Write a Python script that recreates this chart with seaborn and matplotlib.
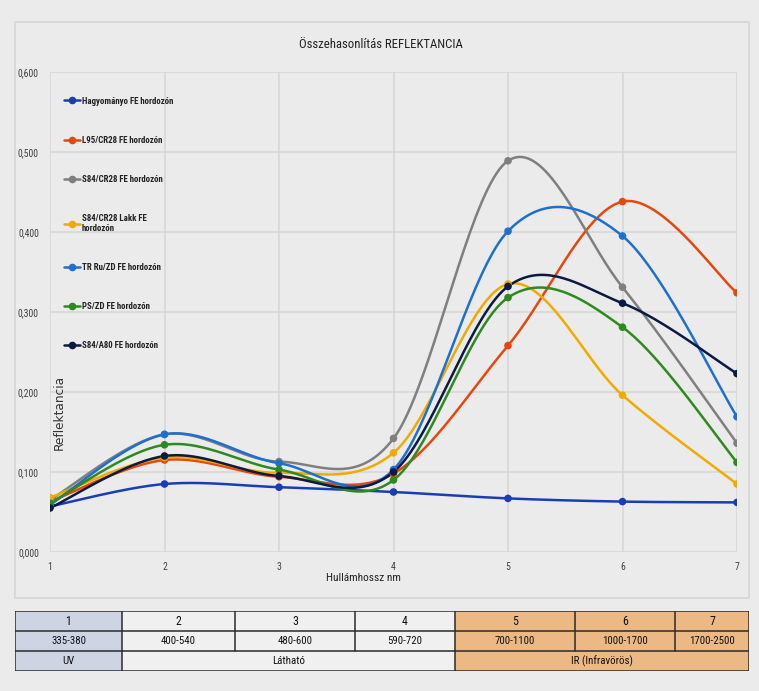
import numpy as np
import pandas as pd
import matplotlib
matplotlib.use("Agg")
import matplotlib.pyplot as plt
from matplotlib import font_manager as fm
from matplotlib.lines import Line2D
from matplotlib.patches import Rectangle
import seaborn as sns

# ---------------- data ----------------
x_vals = [1, 2, 3, 4, 5, 6, 7]
series_names = [
    "Hagyományo FE hordozón",
    "L95/CR28 FE hordozón",
    "S84/CR28 FE hordozón",
    "S84/CR28 Lakk FE\nhordozón",
    "TR Ru/ZD FE hordozón",
    "PS/ZD FE hordozón",
    "S84/A80 FE hordozón",
]
hagyomanyo = [0.057, 0.085, 0.081, 0.075, 0.067, 0.063, 0.062]
l95_cr28 = [0.063, 0.115, 0.094, 0.098, 0.258, 0.438, 0.324]
s84_cr28 = [0.065, 0.147, 0.113, 0.142, 0.489, 0.331, 0.136]
s84_lakk = [0.068, 0.118, 0.099, 0.124, 0.335, 0.196, 0.085]
tr_ru_zd = [0.059, 0.147, 0.111, 0.103, 0.401, 0.395, 0.169]
ps_zd = [0.061, 0.134, 0.103, 0.090, 0.318, 0.281, 0.112]
s84_a80 = [0.055, 0.120, 0.095, 0.100, 0.332, 0.311, 0.223]
series_values = [hagyomanyo, l95_cr28, s84_cr28, s84_lakk, tr_ru_zd, ps_zd, s84_a80]
colors = ["#1b3db4", "#e4480f", "#7f7f7f", "#f0ab00", "#1f6fcf", "#2e8a1f", "#0b1a40"]

y_ticks = [0.0, 0.1, 0.2, 0.3, 0.4, 0.5, 0.6]
y_tick_labels = ["0,000", "0,100", "0,200", "0,300", "0,400", "0,500", "0,600"]

table_numbers = ["1", "2", "3", "4", "5", "6", "7"]
table_ranges = ["335-380", "400-540", "480-600", "590-720", "700-1100", "1000-1700", "1700-2500"]
table_bands = ["UV", "Látható", "IR (Infravörös)"]
band_spans = [1, 3, 3]

title = "Összehasonlítás REFLEKTANCIA"
x_label = "Hullámhossz nm"
y_label = "Reflektancia"

# ---------------- fonts ----------------
sns.set_theme(style="white")
_names = {f.name for f in fm.fontManager.ttflist}
_cond = {f.name for f in fm.fontManager.ttflist if "condensed" in str(f.stretch)}
STRETCH = "normal"
if "Liberation Sans Narrow" in _names:
    NARROW = ["Liberation Sans Narrow", "DejaVu Sans"]
elif "Roboto Condensed" in _names:
    NARROW = ["Roboto Condensed", "DejaVu Sans"]
elif "DejaVu Sans" in _cond:
    NARROW = ["DejaVu Sans"]
    STRETCH = "condensed"
elif "Roboto" in _names:
    NARROW = ["Roboto", "DejaVu Sans"]
else:
    NARROW = ["DejaVu Sans"]
plt.rcParams["font.family"] = NARROW
plt.rcParams["font.stretch"] = STRETCH

BG = "#ebebeb"
W, H = 759, 691
fig = plt.figure(figsize=(W / 100, H / 100), dpi=100, facecolor=BG)
R = fig.canvas.get_renderer()


def fx(px):
    return px / W


def fy(py):
    return 1 - py / H


def fit_size(s, target_px, lo=5.0, hi=12.0, **kw):
    t = fig.text(0, 0, s, fontsize=10, **kw)
    w = t.get_window_extent(renderer=R).width
    t.remove()
    return float(np.clip(10.0 * target_px / w, lo, hi))


fs_title = fit_size(title, 164)
fs_leg = fit_size(series_names[0], 92, weight="bold")
fs_tick = fit_size("0,600", 21)
fs_xlab = fit_size(x_label, 75)
fs_tab = fit_size("1000-1700", 45)
fs_ylab = fit_size(y_label, 75, family="DejaVu Sans")

# chart area border
fig.patches.append(Rectangle((fx(15), fy(598)), fx(749) - fx(15), fy(22) - fy(598),
                             transform=fig.transFigure, facecolor="none",
                             edgecolor="#d6d6d6", lw=1.2, zorder=0))

ax = fig.add_axes([fx(50), fy(552), fx(737) - fx(50), fy(72) - fy(552)])
ax.set_facecolor(BG)


def smooth(xs, ys, n=40):
    P = np.column_stack([xs, ys]).astype(float)
    ext = np.vstack([P[0], P, P[-1]])
    out = []
    t = np.linspace(0, 1, n)[:, None]
    for i in range(len(P) - 1):
        p0, p1, p2, p3 = ext[i], ext[i + 1], ext[i + 2], ext[i + 3]
        c1 = p1 + (p2 - p0) / 6.0
        c2 = p2 - (p3 - p1) / 6.0
        seg = (1 - t) ** 3 * p1 + 3 * (1 - t) ** 2 * t * c1 + 3 * (1 - t) * t ** 2 * c2 + t ** 3 * p2
        out.append(seg if i == 0 else seg[1:])
    return np.vstack(out)


handles = []
for name, vals, col in zip(series_names, series_values, colors):
    sm = smooth(x_vals, vals)
    df_s = pd.DataFrame({"x": sm[:, 0], "y": sm[:, 1]})
    sns.lineplot(data=df_s, x="x", y="y", sort=False, estimator=None, color=col,
                 linewidth=1.8, ax=ax, legend=False)
    df_p = pd.DataFrame({"x": x_vals, "y": vals})
    sns.scatterplot(data=df_p, x="x", y="y", color=col, s=30, edgecolor="none",
                    ax=ax, legend=False, zorder=3)
    handles.append(Line2D([0], [0], color=col, lw=1.8, marker="o", ms=5.5,
                          markeredgewidth=0))

ax.set_xlim(1, 7)
ax.set_ylim(0, 0.6)
ax.set_xticks(x_vals)
ax.set_xticklabels([str(v) for v in x_vals])
ax.set_yticks(y_ticks)
ax.set_yticklabels(y_tick_labels)
ax.tick_params(axis="both", length=0, labelsize=fs_tick, labelcolor="#404040")
ax.tick_params(axis="y", pad=8)
ax.tick_params(axis="x", pad=7)
for s in ax.spines.values():
    s.set_visible(False)
ax.grid(True, color="#d6d6d6", lw=1.1)
ax.set_axisbelow(True)

ax.set_xlabel(x_label, fontsize=fs_xlab, color="#222222")
ax.xaxis.set_label_coords((363 - 50) / 687, (552 - 573) / 480)
ax.set_ylabel(y_label, fontsize=fs_ylab, color="#333333", family="DejaVu Sans")
ax.yaxis.set_label_coords((66 - 50) / 687, (552 - 412) / 480)

leg_prop = {"family": NARROW, "weight": "bold", "size": fs_leg, "stretch": STRETCH}


def make_legend(ls, top_px):
    lg = ax.legend(handles, series_names, loc="upper left",
                   bbox_to_anchor=((64 - 50) / 687, (552 - top_px) / 480),
                   frameon=False, borderpad=0, borderaxespad=0,
                   handlelength=1.75, handletextpad=0.25, labelspacing=ls,
                   prop=leg_prop)
    for t in lg.get_texts():
        t.set_color("#222222")
        t.set_linespacing(1.15)
    return lg


def first_last(lg):
    fig.canvas.draw()
    texts = lg.get_texts()
    b0 = texts[0].get_window_extent(renderer=R)
    b1 = texts[-1].get_window_extent(renderer=R)
    y0 = H - (b0.y0 + b0.y1) / 2
    y1 = H - (b1.y0 + b1.y1) / 2
    return y0, y1


lg = make_legend(1.0, 95)
a0, a1 = first_last(lg)
d1 = a1 - a0
lg.remove()
lg = make_legend(3.0, 95)
b0_, b1_ = first_last(lg)
d3 = b1_ - b0_
lg.remove()
ls = 1.0 + 2.0 * (245 - d1) / (d3 - d1)
lg = make_legend(ls, 95)
c0, _ = first_last(lg)
lg.remove()
lg = make_legend(ls, 95 + (101 - c0))

fig.text(fx(381), fy(44), title, ha="center", va="center", fontsize=fs_title, color="#222222")

# ---------------- table ----------------
tx0, tx1, ty0, ty1 = 15, 749, 611, 671
tax = fig.add_axes([fx(tx0), fy(ty1), fx(tx1) - fx(tx0), fy(ty0) - fy(ty1)])
tax.set_xlim(tx0, tx1)
tax.set_ylim(ty1, ty0)
tax.axis("off")
col_edges = [15, 122, 235, 355, 455, 575, 675, 749]
row_edges = [611, 631, 651, 671]
band_colors = ["#cdd5e5", "#f0f0f0", "#ecb883"]
col_band = []
for bi, span in enumerate(band_spans):
    col_band += [bi] * span

for ci in range(7):
    c = band_colors[col_band[ci]]
    tax.add_patch(Rectangle((col_edges[ci], row_edges[0]), col_edges[ci + 1] - col_edges[ci],
                            row_edges[3] - row_edges[0], facecolor=c, edgecolor="none"))
    xc = (col_edges[ci] + col_edges[ci + 1]) / 2
    tax.text(xc, 621.5, table_numbers[ci], ha="center", va="center",
             fontsize=fs_tab * 1.1, color="#111111")
    tax.text(xc, 641.5, table_ranges[ci], ha="center", va="center",
             fontsize=fs_tab, color="#111111")

start = 0
for bi, span in enumerate(band_spans):
    xa, xb = col_edges[start], col_edges[start + span]
    tax.text((xa + xb) / 2, 661.5, table_bands[bi], ha="center", va="center",
             fontsize=fs_tab, color="#111111")
    tax.plot([xa, xa], [651, 671], color="#2a2a2a", lw=1.1)
    start += span

lc = "#2a2a2a"
for ry in row_edges:
    tax.plot([tx0, tx1], [ry, ry], color=lc, lw=1.1)
for cx in col_edges:
    tax.plot([cx, cx], [611, 651], color=lc, lw=1.1)
tax.plot([tx1, tx1], [651, 671], color=lc, lw=1.1)

fig.savefig("out.png", dpi=100, facecolor=BG)
